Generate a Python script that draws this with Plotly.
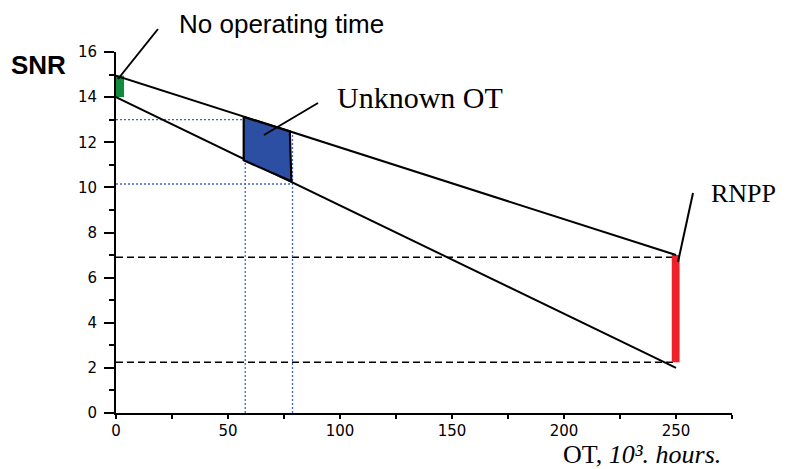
import plotly.graph_objects as go

# ---- data ----
ot_ends = [0, 250]
snr_upper = [14.95, 7.0]
snr_lower = [14.0, 2.0]

rnpp_levels = [6.9, 2.25]          # dashed horizontal levels
rnpp_x = [248.1, 251.6]            # red bar x extent
rnpp_snr = [2.25, 7.0]             # red bar y extent

new_x = [0, 3.6]                   # green bar x extent (no operating time)
new_snr = [14.0, 14.95]

unk_x = [57.0, 77.6, 78.3, 57.0]   # unknown OT polygon
unk_y = [13.12, 12.48, 10.27, 11.2]

guide_x = [57.7, 78.8]             # blue dotted verticals
guide_xtop = [13.0, 12.48]
guide_y = [13.0, 10.15]            # blue dotted horizontals

x_ticks = [0, 50, 100, 150, 200, 250]
y_ticks = [0, 2, 4, 6, 8, 10, 12, 14, 16]

fig = go.Figure()

# dashed RNPP levels
for lv in rnpp_levels:
    fig.add_trace(go.Scatter(x=[ot_ends[0], ot_ends[1]], y=[lv, lv], mode="lines",
                             line=dict(color="black", width=1.6, dash="7px,4px"),
                             hoverinfo="skip", showlegend=False))

# blue dotted guides
for gx, top in zip(guide_x, guide_xtop):
    fig.add_trace(go.Scatter(x=[gx, gx], y=[0, top], mode="lines",
                             line=dict(color="#3f64d0", width=1.3, dash="2px,2px"),
                             hoverinfo="skip", showlegend=False))
for gy, gx in zip(guide_y, guide_x):
    fig.add_trace(go.Scatter(x=[0, gx], y=[gy, gy], mode="lines",
                             line=dict(color="#3f64d0", width=1.3, dash="2px,2px"),
                             hoverinfo="skip", showlegend=False))

# red RNPP bar
fig.add_trace(go.Scatter(x=[rnpp_x[0], rnpp_x[1], rnpp_x[1], rnpp_x[0], rnpp_x[0]],
                         y=[rnpp_snr[0], rnpp_snr[0], rnpp_snr[1], rnpp_snr[1], rnpp_snr[0]],
                         mode="lines", fill="toself", fillcolor="#ee2029",
                         line=dict(color="#ee2029", width=0),
                         hoverinfo="skip", showlegend=False))

# green bar
fig.add_trace(go.Scatter(x=[new_x[0], new_x[1], new_x[1], new_x[0], new_x[0]],
                         y=[new_snr[0], new_snr[0], new_snr[1], new_snr[1], new_snr[0]],
                         mode="lines", fill="toself", fillcolor="#138a3e",
                         line=dict(color="#138a3e", width=0),
                         hoverinfo="skip", showlegend=False))

# envelope lines
for ys in (snr_upper, snr_lower):
    fig.add_trace(go.Scatter(x=ot_ends, y=ys, mode="lines",
                             line=dict(color="black", width=2),
                             hoverinfo="skip", showlegend=False))

# unknown OT polygon
fig.add_trace(go.Scatter(x=unk_x + [unk_x[0]], y=unk_y + [unk_y[0]],
                         mode="lines", fill="toself", fillcolor="#2c4fa3",
                         line=dict(color="black", width=2.2),
                         hoverinfo="skip", showlegend=False))

L, R, T, B = 116, 57, 52, 56
W, H = 789, 469
pw, ph = W - L - R, H - T - B


def px(xpix):
    return (xpix - L) / pw


def py(ypix):
    return (H - B - ypix) / ph


sans = "Liberation Sans, Arial, sans-serif"
serif = "Liberation Serif, Times New Roman, serif"

annos = [
    dict(text="No operating time", x=px(177), y=py(24), font=dict(family=sans, size=26)),
    dict(text="<b>SNR</b>", x=px(9), y=py(65), font=dict(family=sans, size=26)),
    dict(text="Unknown OT", x=px(335), y=py(97), font=dict(family=serif, size=30)),
    dict(text="RNPP", x=px(709), y=py(193), font=dict(family=serif, size=26)),
    dict(text="OT, <i>10³. hours.</i>", x=px(561), y=py(454.5),
         font=dict(family=serif, size=26)),
]
for a in annos:
    fig.add_annotation(xref="paper", yref="paper", xanchor="left", yanchor="middle",
                       showarrow=False, font_color="black", **a)

pointers = [((158, 29), (118, 79)), ((318, 103), (264, 135)), ((693, 193), (678, 262))]
for (x0, y0), (x1, y1) in pointers:
    fig.add_shape(type="line", xref="paper", yref="paper",
                  x0=px(x0), y0=py(y0), x1=px(x1), y1=py(y1),
                  line=dict(color="black", width=2))

axis_common = dict(showline=True, linecolor="black", linewidth=2, showgrid=False,
                   zeroline=False, ticks="outside", tickcolor="black", tickwidth=2,
                   tickfont=dict(family="DejaVu Sans, sans-serif", size=15, color="black"))

fig.update_xaxes(range=[0, 275], tickvals=x_ticks, ticklen=4, ticklabelstandoff=-1,
                 minor=dict(dtick=25, tick0=0, ticklen=4, tickwidth=2, tickcolor="black",
                            ticks="outside", showgrid=False),
                 **axis_common)
fig.update_yaxes(range=[0, 16], tickvals=y_ticks, ticklen=10, ticklabelstandoff=4,
                 minor=dict(dtick=1, tick0=0, ticklen=5, tickwidth=2, tickcolor="black",
                            ticks="outside", showgrid=False),
                 **axis_common)

fig.update_layout(width=W, height=H, margin=dict(l=L, r=R, t=T, b=B),
                  plot_bgcolor="white", paper_bgcolor="white", showlegend=False)

fig.write_html("out.html", include_plotlyjs=True, full_html=True,
               config={"displayModeBar": False},
               post_script="document.body.style.margin='0';document.body.style.overflow='hidden';")
